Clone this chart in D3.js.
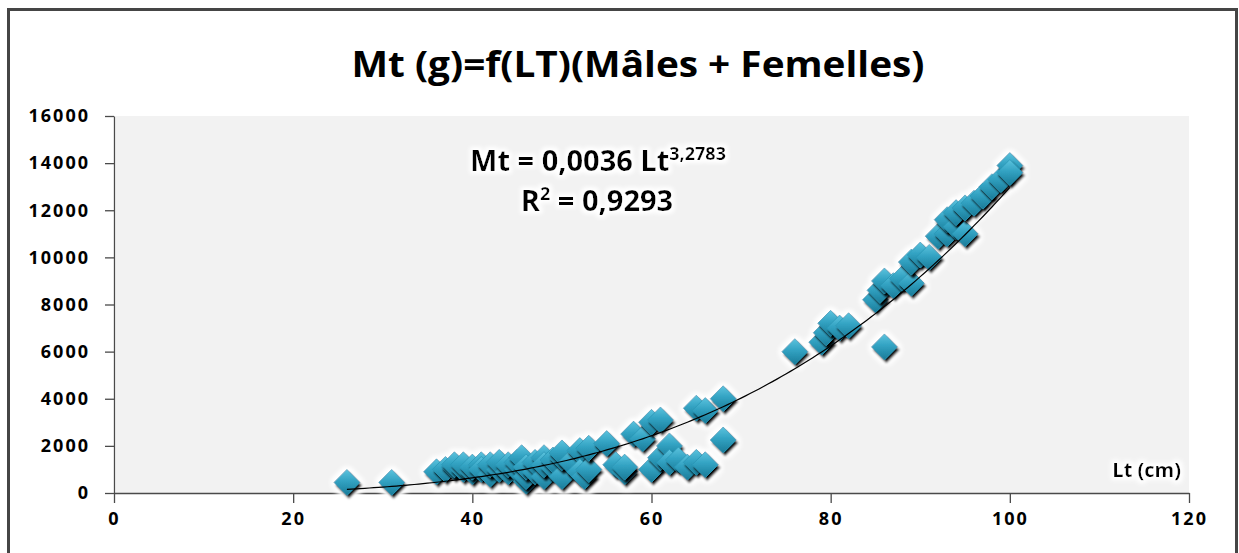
<!DOCTYPE html>
<html>
<head>
<meta charset="utf-8">
<script src="https://cdn.jsdelivr.net/npm/d3@7"></script>
<style>
  html, body { margin: 0; padding: 0; background: #fff; }
  svg { display: block; }
  text { font-family: "Open Sans", "Liberation Sans", sans-serif; font-weight: bold; fill: #000; }
</style>
</head>
<body>
<svg id="chart" width="1239" height="553"></svg>
<script>
// Total length (cm) and total mass (g), males + females
const lengths = [
  26, 31, 36, 37, 38, 38, 39, 39, 40, 40, 41, 41, 42, 42, 43, 43, 44, 44, 45, 45,
  45.5, 46, 46, 46, 47, 47, 48, 48, 48, 49, 49, 50, 50, 50, 51, 52, 52, 52.5, 53, 53,
  55, 56, 57, 57, 58, 59, 60, 60, 61, 61, 62, 62, 63, 64, 65, 65, 66, 66, 68, 68,
  76, 79, 79.5, 80, 81, 82, 86, 85, 85.5, 86, 87, 88, 89, 89, 90, 91, 92, 93, 93, 94,
  94, 95, 95, 96, 97, 98, 99, 100, 100
];
const masses = [
  450, 450, 900, 1000, 1100, 1200, 1000, 1200, 900, 1100, 1200, 1000, 800, 1200, 1000, 1300, 900, 1200, 1000, 1300,
  1500, 500, 700, 1100, 900, 1300, 1500, 700, 1200, 1100, 1400, 700, 1500, 1700, 1300, 1800, 900, 700, 1000, 1900,
  2100, 1200, 900, 1100, 2500, 2300, 1000, 3000, 3100, 1500, 2000, 1300, 1400, 1100, 3600, 1300, 3500, 1200, 4000, 2250,
  6000, 6400, 6800, 7200, 7000, 7100, 6200, 8200, 8600, 9000, 8800, 9100, 8900, 9800, 10100, 10000, 10900, 11000, 11600, 11300,
  11900, 11000, 12100, 12300, 12600, 13000, 13300, 13900, 13600
];

// Power trend fitted on the data: Mt = a * Lt^b
const fitA = 0.0036, fitB = 3.2783, fitR2 = 0.9293;
const fitRange = [26, 100];

const xTicks = [0, 20, 40, 60, 80, 100, 120];
const yTicks = [0, 2000, 4000, 6000, 8000, 10000, 12000, 14000, 16000];

const titleText = "Mt (g)=f(LT)(Mâles + Femelles)";
const xLabel = "Lt (cm)";

const points = lengths.map((l, i) => ({ l, m: masses[i] }));

const svg = d3.select("#chart");
const defs = svg.append("defs");

// White halo around text and marker clusters
const halo = defs.append("filter").attr("id", "halo")
  .attr("x", "-20%").attr("y", "-20%").attr("width", "140%").attr("height", "140%");
halo.append("feMorphology").attr("in", "SourceAlpha").attr("operator", "dilate").attr("radius", 3).attr("result", "d");
halo.append("feGaussianBlur").attr("in", "d").attr("stdDeviation", 2).attr("result", "b");
halo.append("feFlood").attr("flood-color", "#ffffff").attr("result", "w");
halo.append("feComposite").attr("in", "w").attr("in2", "b").attr("operator", "in").attr("result", "g");
const hm = halo.append("feMerge");
hm.append("feMergeNode").attr("in", "g");
hm.append("feMergeNode").attr("in", "SourceGraphic");

// Dark drop shadow under each marker
const shadow = defs.append("filter").attr("id", "mshadow")
  .attr("x", "-50%").attr("y", "-50%").attr("width", "200%").attr("height", "200%");
shadow.append("feOffset").attr("in", "SourceAlpha").attr("dx", 2).attr("dy", 3).attr("result", "o");
shadow.append("feGaussianBlur").attr("in", "o").attr("stdDeviation", 1).attr("result", "ob");
const sm = shadow.append("feMerge");
sm.append("feMergeNode").attr("in", "ob");
sm.append("feMergeNode").attr("in", "SourceGraphic");

const grad = defs.append("linearGradient").attr("id", "mgrad")
  .attr("x1", 0).attr("y1", 0).attr("x2", 0).attr("y2", 1);
grad.append("stop").attr("offset", "0%").attr("stop-color", "#5cc3de");
grad.append("stop").attr("offset", "45%").attr("stop-color", "#32a2c2");
grad.append("stop").attr("offset", "100%").attr("stop-color", "#1a7b98");

// Outer frame
svg.append("rect")
  .attr("x", 8.5).attr("y", 9.5).attr("width", 1228).attr("height", 560)
  .attr("fill", "#fff").attr("stroke", "#454545").attr("stroke-width", 3);

const x = d3.scaleLinear().domain([0, 120]).range([114, 1189]);
const y = d3.scaleLinear().domain([0, 16000]).range([493, 116]);

// Plot area
svg.append("rect")
  .attr("x", x(0) + 2).attr("y", y(16000))
  .attr("width", x(120) - x(0) - 2).attr("height", y(0) - y(16000))
  .attr("fill", "#f2f2f2");

// Title
svg.append("text")
  .attr("x", 638).attr("y", 77)
  .attr("text-anchor", "middle")
  .attr("font-size", 36)
  .attr("textLength", 573).attr("lengthAdjust", "spacingAndGlyphs")
  .text(titleText);

// Axes
const xAxis = svg.append("g")
  .attr("transform", `translate(0,${y(0)})`)
  .call(d3.axisBottom(x).tickValues(xTicks).tickSize(10).tickPadding(9).tickSizeOuter(0));
const yAxis = svg.append("g")
  .attr("transform", `translate(${x(0)},0)`)
  .call(d3.axisLeft(y).tickValues(yTicks).tickSize(9).tickPadding(15).tickSizeOuter(0).tickFormat(d3.format("d")));

[xAxis, yAxis].forEach(g => {
  g.select(".domain").attr("stroke", "#4a4a4a").attr("stroke-width", 1.3);
  g.selectAll(".tick line").attr("stroke", "#4a4a4a").attr("stroke-width", 1.3);
  g.selectAll(".tick text")
    .attr("font-family", "'Open Sans', sans-serif")
    .attr("font-weight", "bold")
    .attr("font-size", 18)
    .attr("letter-spacing", 2)
    .attr("fill", "#000");
});

// Markers
const marks = svg.append("g").attr("filter", "url(#halo)");
const half = 13;
marks.selectAll("path.pt")
  .data(points)
  .join("path")
  .attr("class", "pt")
  .attr("d", d => {
    const cx = x(d.l), cy = y(d.m);
    return `M${cx},${cy - half}L${cx + half},${cy}L${cx},${cy + half}L${cx - half},${cy}Z`;
  })
  .attr("fill", "url(#mgrad)")
  .attr("stroke", "#2b97b6")
  .attr("stroke-width", 0.8)
  .attr("filter", "url(#mshadow)");

// Power trend line
const fitPts = d3.range(fitRange[0], fitRange[1] + 0.001, 0.5).map(l => [l, fitA * Math.pow(l, fitB)]);
svg.append("path")
  .datum(fitPts)
  .attr("d", d3.line().x(d => x(d[0])).y(d => y(d[1])))
  .attr("fill", "none")
  .attr("stroke", "#000")
  .attr("stroke-width", 1.2);

// Equation and R²
const eq = svg.append("g").attr("filter", "url(#halo)");
const eqLine = eq.append("text")
  .attr("x", 598).attr("y", 171).attr("text-anchor", "middle").attr("font-size", 29);
eqLine.append("tspan").text("Mt = " + fitA.toString().replace(".", ",") + " Lt");
eqLine.append("tspan").attr("font-size", 18).attr("dy", -11).text(fitB.toString().replace(".", ","));
const r2Line = eq.append("text")
  .attr("x", 597).attr("y", 211).attr("text-anchor", "middle").attr("font-size", 29);
r2Line.append("tspan").text("R");
r2Line.append("tspan").attr("font-size", 18).attr("dy", -11).text("2");
r2Line.append("tspan").attr("dy", 11).text(" = " + fitR2.toString().replace(".", ","));

// Axis label
svg.append("text")
  .attr("filter", "url(#halo)")
  .attr("x", 1181).attr("y", 477).attr("text-anchor", "end").attr("font-size", 20)
  .text(xLabel);
</script>
</body>
</html>
